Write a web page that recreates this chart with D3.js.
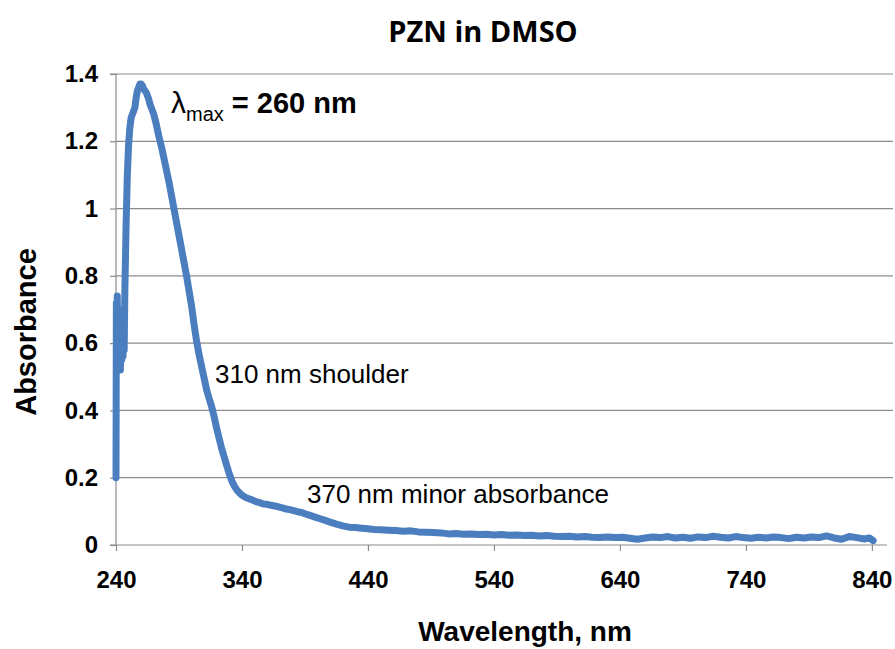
<!DOCTYPE html>
<html>
<head>
<meta charset="utf-8">
<script src="https://cdn.jsdelivr.net/npm/d3@7"></script>
<style>
  body { margin: 0; background: #fff; }
  svg { display: block; }
</style>
</head>
<body>
<script>
// data
const wavelength = [
  240, 240.3, 240.6, 241, 241.5, 242, 242.5, 243, 243.5, 244, 244.5, 245, 245.5, 246, 246.5,
  247, 248, 249, 250, 251, 252, 253, 254, 255, 256, 257, 258, 259, 260, 261, 262, 263, 264,
  265, 266, 267, 268, 270, 272, 274, 276, 278, 280, 282, 284, 286, 288, 290, 292, 294, 296,
  298, 300, 302, 304, 306, 308, 310, 312, 314, 316, 318, 320, 322, 324, 326, 328, 330, 332,
  334, 336, 338, 340, 342, 345, 348, 351, 354, 357, 360, 363, 366, 369, 372, 375, 378, 381,
  384, 387, 390, 394, 398, 402, 406, 410, 415, 420, 425, 430, 435, 440, 445, 450, 456, 462,
  468, 474, 480, 486, 492, 498, 504, 510, 516, 522, 528, 534, 540, 546, 552, 558, 564, 570,
  576, 582, 588, 594, 600, 606, 612, 618, 624, 630, 636, 642, 648, 654, 660, 666, 672, 678,
  684, 690, 696, 702, 708, 714, 720, 726, 732, 738, 744, 750, 756, 762, 768, 774, 780, 786,
  792, 798, 804, 810, 816, 822, 828, 834, 838, 841
]
const absorbance = [
  0.20, 0.72, 0.55, 0.74, 0.53, 0.70, 0.55, 0.68, 0.52, 0.66, 0.55, 0.63, 0.56, 0.60, 0.58,
  0.75, 0.95, 1.10, 1.19, 1.24, 1.27, 1.28, 1.29, 1.30, 1.33, 1.35, 1.36, 1.37, 1.37, 1.365, 1.355, 1.35, 1.345,
  1.335, 1.325, 1.31, 1.30, 1.28, 1.25, 1.215, 1.185, 1.15, 1.115, 1.08, 1.04, 1.00, 0.96, 0.92, 0.88, 0.84, 0.80,
  0.755, 0.71, 0.655, 0.605, 0.565, 0.53, 0.495, 0.46, 0.435, 0.41, 0.38, 0.345, 0.315, 0.285, 0.26, 0.235, 0.21, 0.19,
  0.175, 0.163, 0.155, 0.148, 0.143, 0.138, 0.134, 0.129, 0.126, 0.122, 0.121, 0.118, 0.116, 0.113, 0.110, 0.107, 0.105, 0.102,
  0.099, 0.097, 0.093, 0.088, 0.083, 0.078, 0.073, 0.068, 0.062, 0.057, 0.053, 0.052, 0.050, 0.048, 0.046, 0.045, 0.044, 0.043,
  0.041, 0.042, 0.039, 0.038, 0.037, 0.036, 0.033, 0.034, 0.032, 0.033, 0.031, 0.032, 0.030, 0.031, 0.029, 0.030, 0.028, 0.029,
  0.027, 0.028, 0.026, 0.025, 0.026, 0.024, 0.025, 0.023, 0.022, 0.024, 0.022, 0.023, 0.020, 0.017, 0.021, 0.024, 0.022, 0.025,
  0.021, 0.023, 0.020, 0.024, 0.022, 0.026, 0.023, 0.021, 0.025, 0.022, 0.020, 0.023, 0.021, 0.024, 0.022, 0.019, 0.023, 0.021,
  0.024, 0.022, 0.027, 0.021, 0.017, 0.025, 0.022, 0.018, 0.021, 0.013
]
const xTicks = [240, 340, 440, 540, 640, 740, 840]
const yTicks = [0, 0.2, 0.4, 0.6, 0.8, 1, 1.2, 1.4]

const w = 895
const h = 649
const blue = '#4a7ebf'
const grey = '#8c8c8c'
const font = 'Liberation Sans, Arial, sans-serif'

const svg = d3.select('body')
    .append('svg')
    .attr('width', w)
    .attr('height', h)

// scales
const x = d3.scaleLinear().domain([240, 852]).range([116, 887])
const y = d3.scaleLinear().domain([0, 1.4]).range([545, 74])

// gridlines
svg.append('g')
    .selectAll('line')
    .data(yTicks.filter(d => d > 0))
    .enter()
    .append('line')
    .attr('x1', x(240))
    .attr('x2', 893)
    .attr('y1', d => y(d))
    .attr('y2', d => y(d))
    .attr('stroke', grey)
    .attr('stroke-width', 1.2)

// y axis
const yAxis = svg.append('g')
    .attr('transform', `translate(${x(240)},0)`)
    .call(d3.axisLeft(y).tickValues(yTicks).tickSize(6).tickPadding(12)
        .tickFormat(d => d3.format('~g')(d)))
yAxis.selectAll('line, path').attr('stroke', grey).attr('stroke-width', 1.2)
yAxis.select('.domain').attr('d', `M-6,${y(1.4)}H0V${y(0)}H-6`)
yAxis.selectAll('text')
    .style('font-family', font)
    .style('font-weight', 'bold')
    .style('font-size', '24px')
    .attr('fill', '#000')

// x axis
const xAxis = svg.append('g')
    .attr('transform', `translate(0,${y(0)})`)
    .call(d3.axisBottom(x).tickValues(xTicks).tickSize(6).tickPadding(20))
xAxis.selectAll('line, path').attr('stroke', grey).attr('stroke-width', 1.2)
xAxis.select('.domain').attr('d', `M${x(240)},0H${x(852)}`)
xAxis.selectAll('text')
    .style('font-family', font)
    .style('font-weight', 'bold')
    .style('font-size', '24px')
    .attr('fill', '#000')

// spectrum
const line = d3.line()
    .x((d, i) => x(wavelength[i]))
    .y(d => y(d))

svg.append('path')
    .datum(absorbance)
    .attr('fill', 'none')
    .attr('stroke', blue)
    .attr('stroke-width', 7)
    .attr('stroke-linejoin', 'round')
    .attr('stroke-linecap', 'round')
    .attr('d', line)

// title
svg.append('text')
    .attr('x', 483)
    .attr('y', 42)
    .attr('text-anchor', 'middle')
    .style('font-family', 'Open Sans, sans-serif')
    .style('font-weight', 'bold')
    .style('font-size', '29px')
    .text('PZN in DMSO')

// axis titles
svg.append('text')
    .attr('x', 525)
    .attr('y', 641)
    .attr('text-anchor', 'middle')
    .style('font-family', font)
    .style('font-weight', 'bold')
    .style('font-size', '28px')
    .text('Wavelength, nm')

svg.append('text')
    .attr('transform', 'translate(36,332) rotate(-90)')
    .attr('text-anchor', 'middle')
    .style('font-family', font)
    .style('font-weight', 'bold')
    .style('font-size', '29px')
    .text('Absorbance')

// annotations
const lmax = svg.append('text')
    .attr('x', 171)
    .attr('y', 113)
    .style('font-family', font)
    .style('font-size', '30px')
lmax.append('tspan').text('λ')
lmax.append('tspan').attr('dy', 8).style('font-size', '20px').text('max')
lmax.append('tspan').attr('dy', -8).style('font-weight', 'bold').style('font-size', '29px').text(' = 260 nm')

svg.append('text')
    .attr('x', 215)
    .attr('y', 383)
    .style('font-family', font)
    .style('font-size', '26px')
    .text('310 nm shoulder')

svg.append('text')
    .attr('x', 307)
    .attr('y', 503)
    .style('font-family', font)
    .style('font-size', '26px')
    .text('370 nm minor absorbance')
</script>
</body>
</html>
